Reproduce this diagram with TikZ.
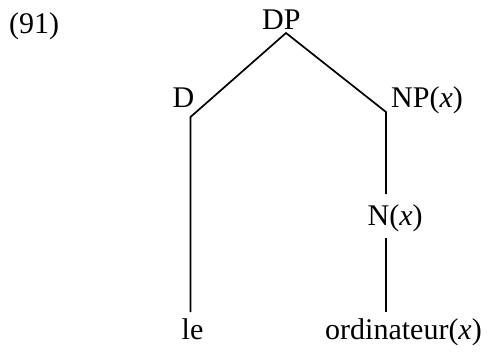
\documentclass[tikz,border=0pt]{standalone}
\usepackage{fontspec}
\setmainfont{Liberation Serif}
\begin{document}
\begin{tikzpicture}[x=1pt,y=-1pt,
  lbl/.style={anchor=base west,inner sep=0pt,font=\fontsize{30}{36}\selectfont},
  edge/.style={line width=1.7pt,line join=miter}]
\useasboundingbox (0,0) rectangle (490,356);
\node[lbl] (ex) at (9,33) {(91)};
\node[lbl] (DP) at (262,29.5) {DP};
\node[lbl] (D) at (172.5,107) {D};
\node[lbl] (NP) at (391,107) {NP(\textit{x})};
\node[lbl] (N) at (367.5,225) {N(\textit{x})};
\node[lbl] (le) at (181.5,339) {le};
\node[lbl] (ord) at (325,339) {ordinateur(\textit{x})};
\coordinate (top) at (286,33);
\coordinate (dc) at (190.5,117);
\coordinate (npc) at (386,112);
\coordinate (nt) at (386,194);
\coordinate (nb) at (386,238);
\coordinate (leT) at (190.5,312);
\coordinate (ordT) at (386,312);
\draw[edge] (leT) -- (dc) -- (top) -- (npc) -- (nt);
\draw[edge] (nb) -- (ordT);
\end{tikzpicture}
\end{document}
